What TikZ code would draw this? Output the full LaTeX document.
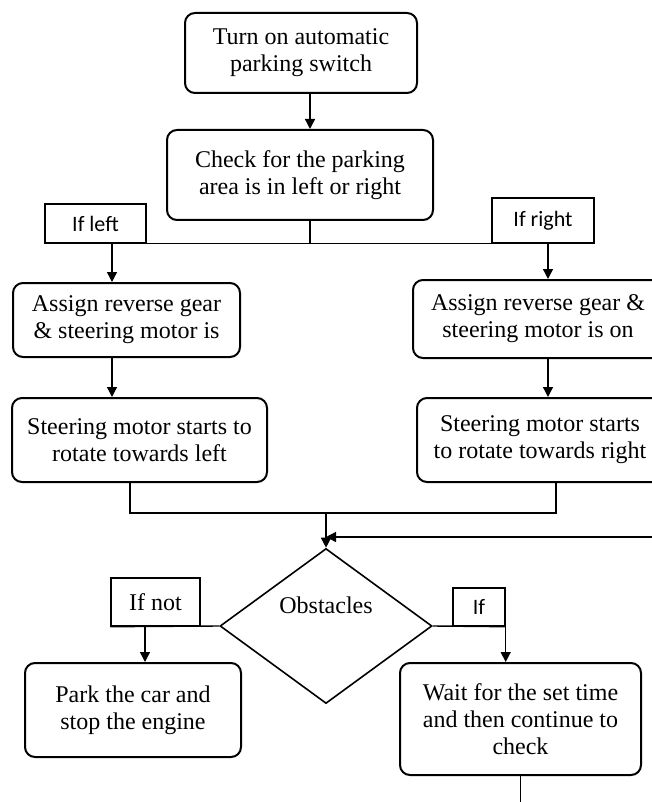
\documentclass[tikz,border=0pt]{standalone}
\usepackage{fontspec}
\setmainfont{Liberation Serif}
\newfontfamily\labelfont{Carlito}
\usetikzlibrary{arrows.meta,shapes.geometric}

\begin{document}
\begin{tikzpicture}[x=0.5pt,y=-0.5pt,every text node part/.style={align=center},
	font=\fontsize{12}{13.5}\selectfont,
	process/.style={draw,line width=1pt,rounded corners=5pt,inner sep=0pt},
	cond/.style={draw,line width=0.7pt,inner sep=0pt,font=\labelfont\fontsize{11}{13}\selectfont},
	line/.style={line width=0.7pt},
	arr/.style={line width=0.7pt,-{Triangle[width=5pt,length=5pt]}}]
		\clip (0,0) rectangle (652,802);
		% boxes
		\node[process,minimum width=116pt,minimum height=40pt] (turn) at (301,53) {Turn on automatic\\parking switch};
		\node[process,minimum width=133pt,minimum height=45pt] (check) at (300,175) {Check for the parking\\area is in left or right};
		\node[cond,minimum width=50.5pt,minimum height=19.5pt] (ifleft) at (95.5,223.5) {If left};
		\node[cond,minimum width=51pt,minimum height=22.5pt] (ifright) at (543,220.5) {If right};
		\node[process,minimum width=113.5pt,minimum height=37pt] (assignl) at (126.5,320) {Assign reverse gear\\\& steering motor is};
		\node[process,minimum width=125pt,minimum height=39pt] (assignr) at (538,319) {Assign reverse gear \&\\steering motor is on};
		\node[process,minimum width=127.5pt,minimum height=42pt] (steerl) at (139.5,440) {Steering motor starts to\\rotate towards left};
		\node[process,minimum width=123pt,minimum height=42pt] (steerr) at (540,440) {Steering motor starts\\to rotate towards right};
		\node[diamond,draw,line width=0.8pt,inner sep=0pt,minimum width=106pt,minimum height=77.5pt] (obst) at (326,626) {\raisebox{6.5pt}[0pt][0pt]{Obstacles}};
		\node[draw,line width=0.7pt,inner sep=0pt,minimum width=44.5pt,minimum height=24pt] (ifnot) at (155.5,602) {If not};
		\node[cond,minimum width=26pt,minimum height=19pt] (ifyes) at (479,607) {If};
		\node[process,minimum width=108pt,minimum height=47pt] (park) at (133,710) {Park the car and\\stop the engine};
		\node[process,minimum width=120.5pt,minimum height=56pt] (wait) at (520.5,719) {Wait for the set time\\and then continue to\\check};
		% branch points
		\coordinate (lsplit) at (112,243);
		\coordinate (rsplit) at (548,243);
		\coordinate (ljoin) at (130,513);
		\coordinate (rjoin) at (556,513);
		\coordinate (merge) at (326,513);
		\coordinate (loop) at (652,537);
		\coordinate (nsplit) at (145,626);
		% connectors
		\draw[arr] ([xshift=4.5pt]turn.south) -- ([xshift=4.5pt]turn.south |- check.north);
		\draw[line] ([xshift=5pt]check.south) -- ([xshift=5pt]check.south |- ifleft.south);
		\draw[line] (ifleft.south west) -- (ifright.south east);
		\draw[arr] (lsplit) -- (lsplit |- assignl.north);
		\draw[arr] (rsplit) -- (rsplit |- assignr.north);
		\draw[arr] (lsplit |- assignl.south) -- (lsplit |- steerl.north);
		\draw[arr] (rsplit |- assignr.south) -- (rsplit |- steerr.north);
		\draw[line] (ljoin |- steerl.south) -- (ljoin) -- (rjoin) -- (rjoin |- steerr.south);
		\draw[arr] (merge) -- (obst.north);
		\draw[arr] (loop) -- (loop -| merge);
		\draw[line] (obst.west) -- (ifnot.south west);
		\draw[arr] (nsplit) -- (nsplit |- park.north);
		\draw[line] (obst.east) -- (ifyes.south east);
		\draw[arr] (ifyes.south east) -- (ifyes.south east |- wait.north);
		\draw[line] (wait.south) -- ++(0,30);
\end{tikzpicture}
\end{document}
